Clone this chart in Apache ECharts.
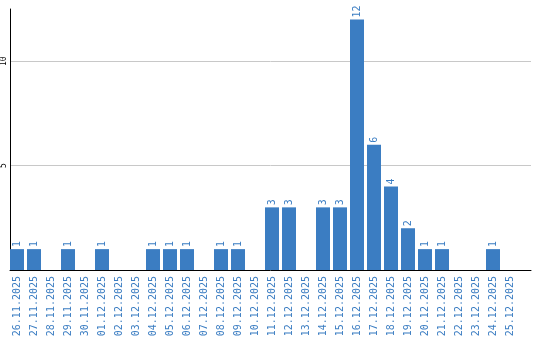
<!DOCTYPE html>
<html><head><meta charset="utf-8">
<script src="https://cdn.jsdelivr.net/npm/echarts@6/dist/echarts.min.js"></script>
<style>html,body{margin:0;padding:0;background:#fff}#c{width:540px;height:340px}</style>
</head><body><div id="c"></div>
<script>
var categories = ['26.11.2025','27.11.2025','28.11.2025','29.11.2025','30.11.2025','01.12.2025','02.12.2025','03.12.2025','04.12.2025','05.12.2025','06.12.2025','07.12.2025','08.12.2025','09.12.2025','10.12.2025','11.12.2025','12.12.2025','13.12.2025','14.12.2025','15.12.2025','16.12.2025','17.12.2025','18.12.2025','19.12.2025','20.12.2025','21.12.2025','22.12.2025','23.12.2025','24.12.2025','25.12.2025'];
var values = [1,1,0,1,0,1,0,0,1,1,1,0,1,1,0,3,3,0,3,3,12,6,4,2,1,1,0,0,1,0];
var yTicks = [5, 10];

var blue = '#3b7dc2';
var font = 'DejaVu Sans Mono';
var chart = echarts.init(document.getElementById('c'), null, {renderer:'canvas'});
chart.setOption({
  animation:false,
  grid:[
    {left:10, right:9, top:9, bottom:70},
    {left:8.5, right:21.5, top:9, bottom:70}
  ],
  xAxis:[
    {gridIndex:0, type:'value', min:0, max:1, axisLine:{show:true, onZero:false, lineStyle:{color:'#000', width:1}}, axisTick:{show:false}, axisLabel:{show:false}, splitLine:{show:false}},
    {gridIndex:1, type:'category', data:categories, axisLine:{show:false}, axisTick:{show:false},
     axisLabel:{rotate:90, interval:0, margin:6, color:blue, fontFamily:font, fontSize:10}}
  ],
  yAxis:[
    {gridIndex:0, type:'value', min:0, max:12.5, interval:5,
     axisLine:{show:true, lineStyle:{color:'#000', width:1}}, axisTick:{show:false},
     splitLine:{show:true, showMinLine:false, showMaxLine:false, lineStyle:{color:'#c8c8c8', width:1}},
     axisLabel:{show:true, rotate:90, margin:2, color:'#000', fontFamily:font, fontSize:8,
       formatter:function(v){return yTicks.indexOf(v)>=0 ? String(v) : '';}}},
    {gridIndex:1, type:'value', min:0, max:12.5, interval:5, show:false}
  ],
  series:[{
    type:'bar', xAxisIndex:1, yAxisIndex:1, data:values, barWidth:14,
    itemStyle:{color:blue},
    label:{show:true, position:'top', rotate:90, align:'left', verticalAlign:'middle', distance:2,
      color:blue, fontFamily:font, fontSize:10,
      formatter:function(p){return p.value ? String(p.value) : '';}}
  }]
});
</script></body></html>
